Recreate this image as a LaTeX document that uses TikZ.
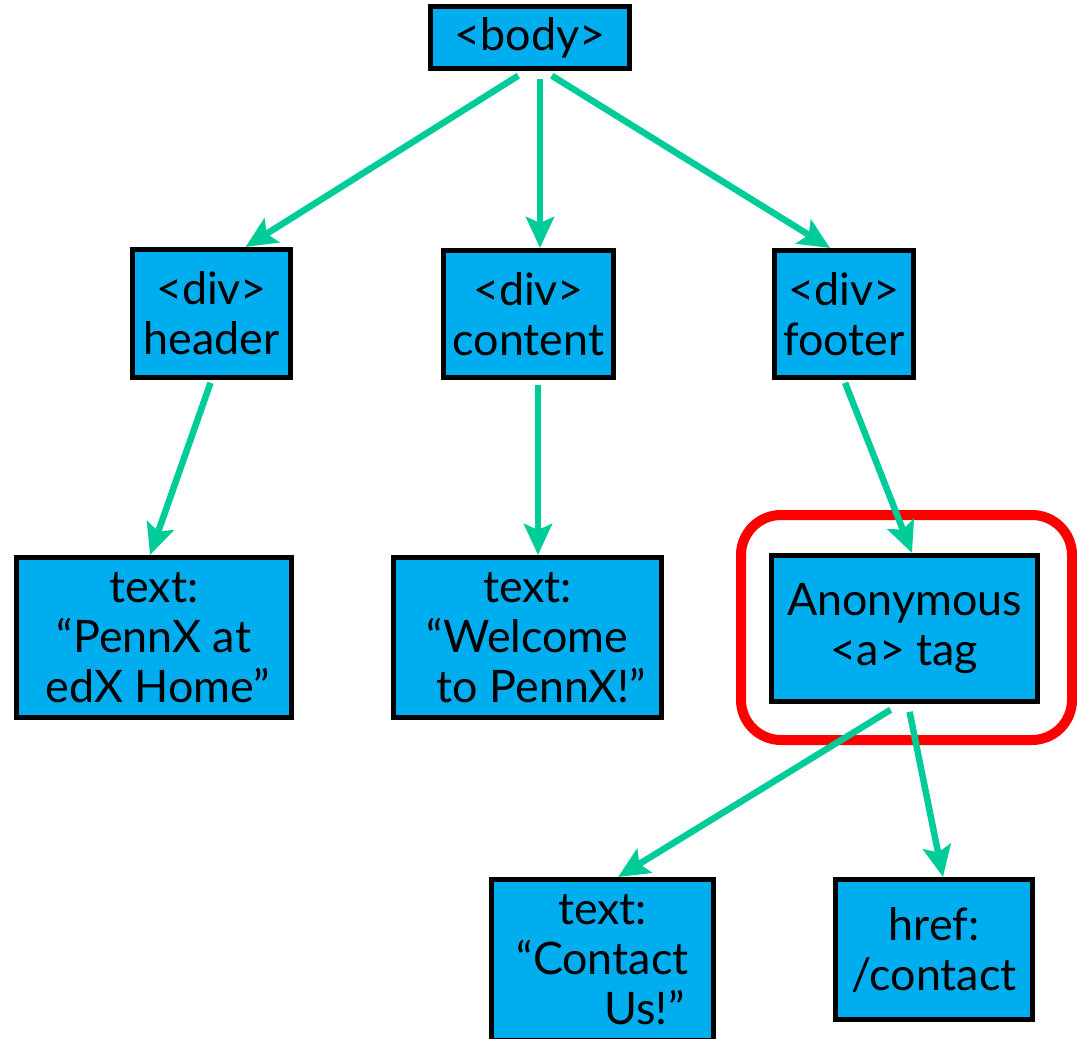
\documentclass[tikz,border=0pt]{standalone}
\usepackage{fontspec}
\setmainfont{Lato}
\usetikzlibrary{arrows.meta}
\definecolor{boxblue}{RGB}{0,174,239}
\definecolor{linkgreen}{RGB}{0,204,153}
\begin{document}
\begin{tikzpicture}[>={Stealth[length=0.62cm,width=0.56cm,inset=0.12cm]},
  font=\fontsize{25.5}{28.45}\selectfont,
  tag/.style={draw=black,line width=0.1cm,fill=boxblue,align=center,inner sep=0pt},
  edge/.style={->,draw=linkgreen,line width=0.13cm}]
\useasboundingbox (0,0) rectangle (21.54,-20.76);
% highlight round the anonymous tag
\node[draw=red,line width=0.2cm,rounded corners=0.8cm,minimum width=6.62cm,minimum height=4.5cm] (hilite) at (18.13,-12.55) {};
\node[tag,minimum width=3.98cm,minimum height=1.24cm] (body) at (10.6,-0.76) {<body>};
\node[tag,minimum width=3.16cm,minimum height=2.56cm] (header) at (4.23,-6.27) {<div>\\header};
\node[tag,minimum width=3.4cm,minimum height=2.54cm] (content) at (10.57,-6.28) {<div>\\content};
\node[tag,minimum width=2.78cm,minimum height=2.54cm] (footer) at (16.88,-6.28) {<div>\\footer};
\node[tag,minimum width=5.5cm,minimum height=3.2cm] (hometext) at (3.08,-12.75) {text:\\“PennX at\hspace*{0.8cm}\\\hspace*{0.14cm}edX Home”};
\node[tag,minimum width=5.36cm,minimum height=3.2cm] (welcometext) at (10.55,-12.75) {text:\\“Welcome\hspace*{0.48cm}\\\hspace*{0.56cm}to PennX!”};
\node[tag,minimum width=5.32cm,minimum height=2.92cm] (atag) at (18.09,-12.57) {Anonymous\\<a> tag};
\node[tag,minimum width=4.44cm,minimum height=3.22cm] (contacttext) at (12.05,-19.2) {text:\\“Contact\\\hspace*{1.68cm}Us!”};
\node[tag,minimum width=3.94cm,minimum height=2.8cm] (href) at (18.68,-18.99) {href:\\/contact};
% tree edges
\draw[edge,shorten <=0.16cm] ([xshift=-0.1cm]body.south) -- ([xshift=0.68cm]header.north);
\draw[edge,shorten <=0.16cm] ([xshift=0.2cm]body.south) -- ([xshift=0.2cm]body.south |- content.north);
\draw[edge,shorten <=0.16cm] ([xshift=0.3cm]body.south) -- ([xshift=-0.28cm]footer.north);
\draw[edge,shorten <=0.06cm] (header.south) -- ([xshift=-0.08cm]hometext.north);
\draw[edge,shorten <=0.1cm] ([xshift=0.19cm]content.south) -- ([xshift=0.19cm]content.south |- welcometext.north);
\draw[edge,shorten <=0.06cm] (footer.south) -- ([xshift=0.15cm]atag.north);
\draw[edge,shorten <=0.22cm] ([xshift=-0.09cm]atag.south) -- ([xshift=0.31cm]contacttext.north);
\draw[edge,shorten <=0.16cm] ([xshift=0.07cm]atag.south) -- ([xshift=0.18cm]href.north);
\end{tikzpicture}
\end{document}
